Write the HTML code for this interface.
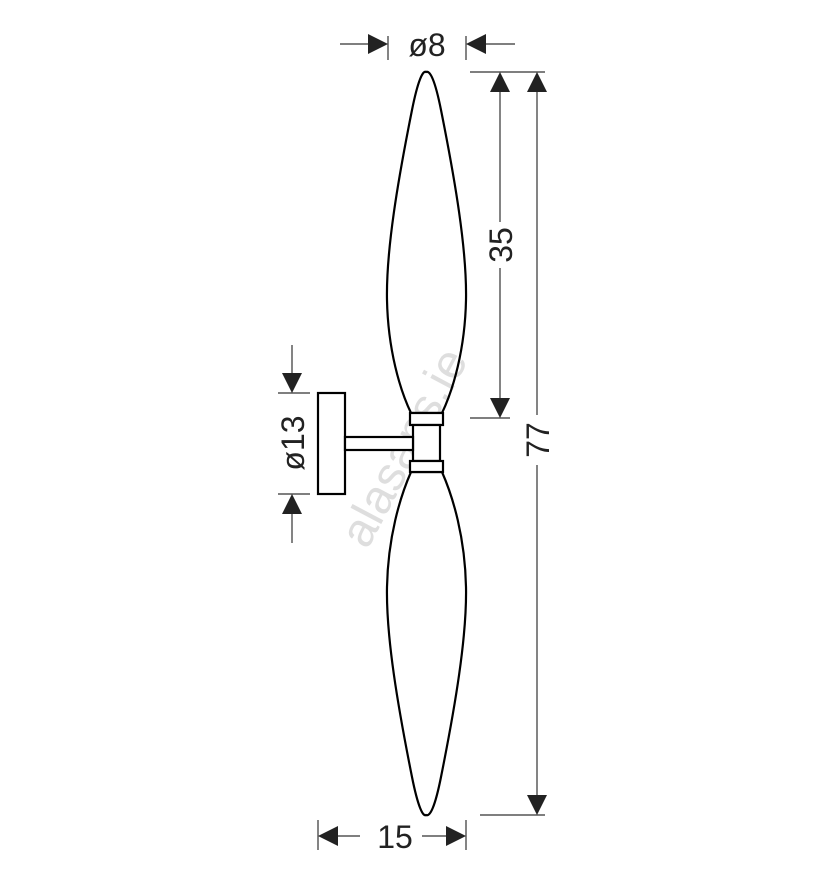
<!DOCTYPE html>
<html><head><style>body{margin:0;background:#fff}svg{display:block}</style></head>
<body>
<svg width="828" height="886" viewBox="0 0 828 886" xmlns="http://www.w3.org/2000/svg" font-family="Liberation Sans, sans-serif">
<text x="418" y="455" font-size="48" fill="#dedede" text-anchor="middle" transform="rotate(-62 418 455)">alasans.ie</text>
<g fill="none" stroke="#000" stroke-width="2.2">
<path d="M426 72 C423 70 418 80 412 110 C398 180 386 250 387 300 C388 350 400 390 411 413 L442 413 C453 390 465 350 466 300 C467 250 455 180 441 110 C435 80 430 70 426 72 Z"/>
<path d="M426 815 C423 817 418 807 412 777 C398 707 386 637 387 587 C388 537 400 497 411 472 L442 472 C453 497 465 537 466 587 C467 637 455 707 441 777 C435 807 430 817 426 815 Z"/>
<rect x="410" y="413" width="33" height="12" fill="#fff"/>
<rect x="413" y="425" width="27" height="36" fill="#fff"/>
<rect x="410" y="461" width="33" height="11" fill="#fff"/>
<rect x="318" y="393" width="27" height="101" fill="#fff"/>
<rect x="345" y="437" width="68" height="13" fill="#fff"/>
</g>
<g stroke="#333" stroke-width="1.2" fill="none">
<line x1="340" y1="44" x2="375" y2="44"/><line x1="388" y1="36" x2="388" y2="60"/>
<line x1="480" y1="44" x2="515" y2="44"/><line x1="466" y1="36" x2="466" y2="60"/>
<line x1="470" y1="72" x2="545" y2="72"/>
<line x1="500" y1="85" x2="500" y2="222"/><line x1="500" y1="268" x2="500" y2="405"/>
<line x1="470" y1="418" x2="510" y2="418"/>
<line x1="537" y1="85" x2="537" y2="415"/><line x1="537" y1="465" x2="537" y2="800"/>
<line x1="480" y1="815" x2="545" y2="815"/>
<line x1="292" y1="345" x2="292" y2="380"/><line x1="278" y1="393" x2="310" y2="393"/>
<line x1="292" y1="507" x2="292" y2="543"/><line x1="278" y1="494" x2="310" y2="494"/>
<line x1="318" y1="820" x2="318" y2="850"/><line x1="466" y1="820" x2="466" y2="850"/>
<line x1="330" y1="836" x2="360" y2="836"/><line x1="422" y1="836" x2="454" y2="836"/>
</g>
<g fill="#222">
<polygon points="388,44 368,34 368,54"/>
<polygon points="466,44 486,34 486,54"/>
<polygon points="500,72 490,92 510,92"/>
<polygon points="500,418 490,398 510,398"/>
<polygon points="537,72 527,92 547,92"/>
<polygon points="537,815 527,795 547,795"/>
<polygon points="292,393 282,373 302,373"/>
<polygon points="292,494 282,514 302,514"/>
<polygon points="318,836 338,826 338,846"/>
<polygon points="466,836 446,826 446,846"/>
</g>
<g fill="#222" font-size="32" text-anchor="middle">
<text x="427" y="56">ø8</text>
<text x="395" y="848">15</text>
<text transform="translate(512 245) rotate(-90)">35</text>
<text transform="translate(549 440) rotate(-90)">77</text>
<text transform="translate(304 443) rotate(-90)">ø13</text>
</g>
</svg>
</body></html>
